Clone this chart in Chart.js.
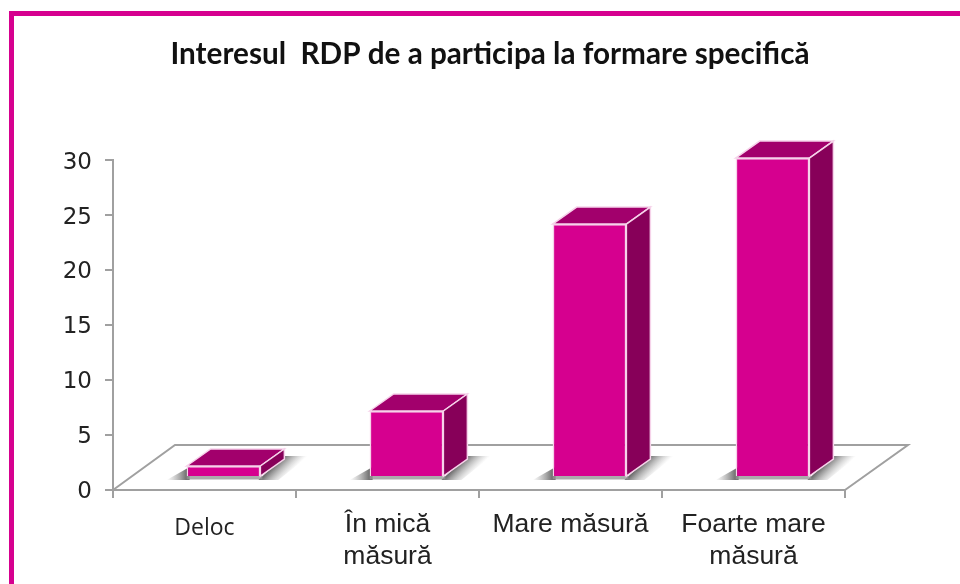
<!DOCTYPE html>
<html><head><meta charset="utf-8">
<style>
html,body{margin:0;padding:0;background:#fff;width:960px;height:584px;overflow:hidden}
#wrap{position:absolute;left:0;top:0;width:960px;height:584px}
#frame{position:absolute;left:9px;top:11px;width:951px;height:573px;border-left:5px solid #d6008f;border-top:5px solid #d6008f;box-sizing:border-box;pointer-events:none}
</style>
<script src="https://cdn.jsdelivr.net/npm/chart.js@4"></script>
</head><body>
<div id="wrap"><canvas id="c" width="960" height="584"></canvas><div id="frame"></div></div>
<script>
const categories = [["Deloc"], ["În mică", "măsură"], ["Mare măsură"], ["Foarte mare", "măsură"]];
const values = [1, 6, 23, 29];
const chartTitle = "Interesul  RDP de a participa la formare specifică";

const FRONT = "#d6008f", TOP = "#a2006c", SIDE = "#870059", EDGE = "#f6d3ea", AXIS = "#a0a0a0";
const BAR_DX = 24, BAR_DY = 17, FLOOR_DX = 62, FLOOR_DY = 45, SHIFT_X = 19, SHIFT_Y = -13;

function poly(ctx, pts, fill, stroke) {
  ctx.beginPath();
  pts.forEach((p, i) => i ? ctx.lineTo(p[0], p[1]) : ctx.moveTo(p[0], p[1]));
  ctx.closePath();
  if (fill) { ctx.fillStyle = fill; ctx.fill(); }
  if (stroke) { ctx.strokeStyle = stroke; ctx.lineWidth = 1.5; ctx.stroke(); }
}

const plugin3d = {
  id: "plugin3d",
  afterLayout(chart) {
    chart.titleBlock.left = 20;
    chart.titleBlock.right = 960;
  },
  beforeDatasetsDraw(chart) {
    const ctx = chart.ctx, a = chart.chartArea;
    const y0 = chart.scales.y.getPixelForValue(0), l = a.left, r = a.right;
    ctx.save();
    ctx.strokeStyle = AXIS; ctx.lineWidth = 2;
    ctx.beginPath();
    ctx.moveTo(l, y0); ctx.lineTo(l + FLOOR_DX, y0 - FLOOR_DY);
    ctx.lineTo(r + FLOOR_DX + 1, y0 - FLOOR_DY); ctx.lineTo(r, y0);
    ctx.stroke();
    chart.getDatasetMeta(0).data.forEach(b => {
      const x1 = b.x - b.width / 2 + SHIFT_X, x2 = b.x + b.width / 2 + SHIFT_X, yb = y0 + SHIFT_Y;
      const g1 = ctx.createLinearGradient(x1 - 20, 0, x1 + 1, 0);
      g1.addColorStop(0, "rgba(150,150,150,0)"); g1.addColorStop(1, "rgba(100,100,100,1)");
      poly(ctx, [[x1 - 20, yb + 3], [x1 + 3, yb + 3], [x1 + 3, yb - 10]], g1);
      const g2 = ctx.createLinearGradient(x2 + 12, yb - 12, x2 + 25, yb + 1);
      g2.addColorStop(0, "rgba(85,85,85,1)"); g2.addColorStop(1, "rgba(170,170,170,0)");
      poly(ctx, [[x2 - 2, yb + 3], [x2 + BAR_DX, yb - 21], [x2 + 48, yb - 21], [x2 + 18, yb + 3]], g2);
      poly(ctx, [[x1, yb - 1], [x2 + 2, yb - 1], [x2 + 2, yb + 2.5], [x1, yb + 2.5]], "rgba(150,150,150,0.8)");
    });
    ctx.restore();
  },
  beforeDatasetDraw(chart) {
    chart.ctx.save();
    chart.ctx.translate(SHIFT_X, SHIFT_Y);
    chart.getDatasetMeta(0).data.forEach(b => {
      const ctx = chart.ctx, x1 = b.x - b.width / 2, x2 = b.x + b.width / 2, yt = b.y, yb = b.base;
      poly(ctx, [[x1, yt], [x1 + BAR_DX, yt - BAR_DY], [x2 + BAR_DX, yt - BAR_DY], [x2, yt]], TOP, EDGE);
      poly(ctx, [[x2, yt], [x2 + BAR_DX, yt - BAR_DY], [x2 + BAR_DX, yb - BAR_DY], [x2, yb]], SIDE, EDGE);
    });
  },
  afterDatasetDraw(chart) { chart.ctx.restore(); }
};

new Chart(document.getElementById("c"), {
  type: "bar",
  data: { labels: categories, datasets: [{
    data: values, backgroundColor: FRONT, borderColor: EDGE, borderWidth: 1.5,
    barPercentage: 0.403, categoryPercentage: 1
  }]},
  plugins: [plugin3d],
  options: {
    responsive: false, animation: false, events: [],
    layout: { padding: { left: 0, right: 115, top: 0, bottom: 0 } },
    plugins: {
      legend: { display: false }, tooltip: { enabled: false },
      title: { display: true, text: chartTitle, color: "#111",
        font: { family: "Lato", size: 29.7, weight: "bold" },
        padding: { top: 37, bottom: 87.4 } }
    },
    scales: {
      x: {
        afterFit(s) { s.height = 94; },
        grid: { display: true, drawOnChartArea: false, offset: true, color: AXIS, lineWidth: 2, tickLength: 8 },
        border: { color: AXIS, width: 2 },
        ticks: { color: "#222", padding: 11, maxRotation: 0, autoSkip: false,
          font: c => c.index === 0 ? { family: "Open Sans", size: 23, lineHeight: 1.65 } : { family: "Liberation Sans", size: 26.5, lineHeight: 1.2 } }
      },
      y: {
        min: 0, max: 30,
        afterFit(s) { s.width = 113; },
        grid: { display: true, drawOnChartArea: false, color: AXIS, lineWidth: 2, tickLength: 8 },
        border: { color: AXIS, width: 2 },
        ticks: { stepSize: 5, color: "#222", padding: 13, labelOffset: 2.5, font: { family: "DejaVu Sans", size: 23 } }
      }
    }
  }
});
</script>
</body></html>
